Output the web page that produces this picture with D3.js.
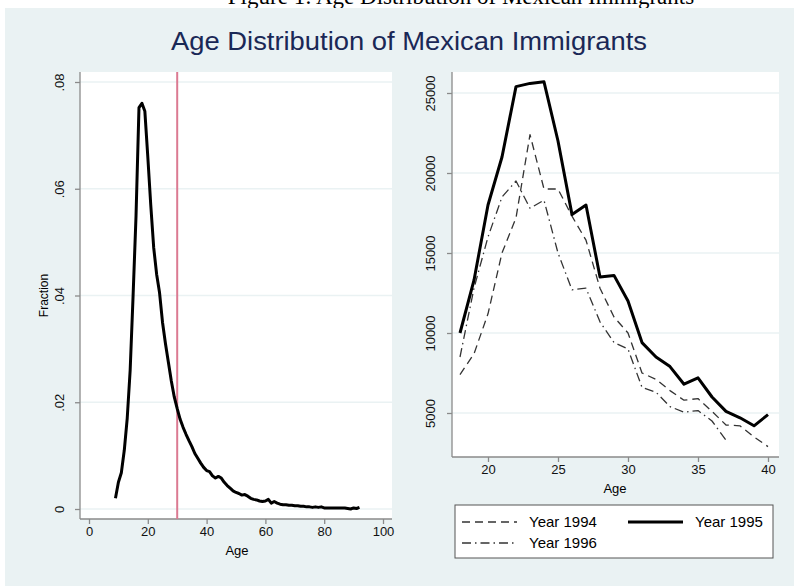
<!DOCTYPE html>
<html>
<head>
<meta charset="utf-8">
<script src="https://cdn.jsdelivr.net/npm/d3@7"></script>
<style>
  body { margin: 0; background: #fff; }
  text { font-family: "Liberation Sans", Arial, sans-serif; }
  .tick text { font-size: 13px; fill: #111; }
</style>
</head>
<body>
<script>
// Left panel: fraction of immigrants at each age
var ages = [9,10,11,12,13,14,15,16,17,18,19,20,21,22,23,24,25,26,27,28,29,30,
  31,32,33,34,35,36,37,38,39,40,41,42,43,44,45,46,47,48,49,50,51,52,53,54,55,
  56,57,58,59,60,61,62,63,64,65,66,67,68,69,70,71,72,73,74,75,76,77,78,79,80,
  81,82,83,84,85,86,87,88,89,90,91,92];
var fraction = [0.0020,0.0050,0.0068,0.0110,0.0170,0.0260,0.0400,0.0550,0.0752,
  0.0760,0.0745,0.0660,0.0570,0.0490,0.0440,0.0405,0.0350,0.0310,0.0275,0.0240,
  0.0210,0.0188,0.0168,0.0153,0.0140,0.0128,0.0117,0.0104,0.0095,0.0086,0.0078,
  0.0072,0.0070,0.0062,0.0058,0.0061,0.0058,0.0050,0.0044,0.0039,0.0034,0.0031,
  0.0029,0.0026,0.0027,0.0024,0.0020,0.0018,0.0017,0.0015,0.0014,0.0015,0.0018,
  0.0011,0.0014,0.0011,0.0009,0.0008,0.0008,0.0007,0.0007,0.0006,0.0006,0.0005,
  0.0005,0.0004,0.0004,0.0003,0.0004,0.0003,0.0004,0.0002,0.0002,0.0002,0.0002,
  0.0002,0.0002,0.0002,0.0002,0.0001,0.0000,0.0002,0.0001,0.0003];
var cutoff_age = 30;
var left_x_ticks = [0, 20, 40, 60, 80, 100];
var left_y_ticks = [0, 0.02, 0.04, 0.06, 0.08];
var left_y_labels = ['0', '.02', '.04', '.06', '.08'];

// Right panel: counts by age and year
var years_ages = [18,19,20,21,22,23,24,25,26,27,28,29,30,31,32,33,34,35,36,37,38,39,40];
var year1994 = [7400,8700,11200,15000,17200,22400,19000,19000,17300,15800,12800,
  11000,10000,7500,7100,6400,5800,5900,5100,4250,4200,3500,2900];
var year1995 = [10000,13300,18000,21000,25400,25600,25700,22000,17400,18000,13500,
  13600,12000,9400,8500,7900,6800,7200,6000,5100,4700,4200,4900];
var year1996 = [8500,12800,16000,18500,19500,17800,18300,15000,12700,12800,10700,
  9400,9000,6600,6300,5400,5050,5150,4500,3300];
var right_x_ticks = [20, 25, 30, 35, 40];
var right_y_ticks = [5000, 10000, 15000, 20000, 25000];
var legend_labels = ['Year 1994', 'Year 1995', 'Year 1996'];

var width = 794, height = 586;
var svg = d3.select('body').append('svg')
  .attr('width', width)
  .attr('height', height);

// figure caption (cropped at the top in the original) and the grey graph region
svg.append('text')
  .attr('x', 461).attr('y', 4)
  .attr('text-anchor', 'middle')
  .style('font-family', '"Liberation Serif", serif')
  .style('font-size', '23px')
  .text('Figure 1: Age Distribution of Mexican Immigrants');

svg.append('rect')
  .attr('x', 5).attr('y', 8)
  .attr('width', width - 5).attr('height', height - 8)
  .attr('fill', '#eaf2f3');

svg.append('text')
  .attr('x', 409).attr('y', 50)
  .attr('text-anchor', 'middle')
  .attr('textLength', 476)
  .attr('lengthAdjust', 'spacingAndGlyphs')
  .style('font-size', '25px')
  .attr('fill', '#1a2856')
  .text('Age Distribution of Mexican Immigrants');

// shared helper to draw an axis in Stata style
function styleAxis(g) {
  g.select('.domain').attr('stroke', '#8a8a8a').attr('stroke-width', 1.3);
  g.selectAll('.tick line').attr('stroke', '#8a8a8a').attr('stroke-width', 1.3);
}

// ---------- left panel ----------
var L = {left: 80, right: 392, top: 72, bottom: 519};
var lx = d3.scaleLinear().domain([0, 100]).range([89, 383]);
var ly = d3.scaleLinear().domain([0, 0.08]).range([509, 82]);

svg.append('rect')
  .attr('x', L.left).attr('y', L.top)
  .attr('width', L.right - L.left).attr('height', L.bottom - L.top)
  .attr('fill', '#fff');

svg.selectAll('line.lgrid')
  .data(left_y_ticks)
  .enter().append('line')
  .attr('class', 'lgrid')
  .attr('x1', L.left).attr('x2', L.right)
  .attr('y1', function(d) { return ly(d); })
  .attr('y2', function(d) { return ly(d); })
  .attr('stroke', '#eaf2f3').attr('stroke-width', 1.5);

var lyAxis = svg.append('g')
  .attr('transform', 'translate(' + L.left + ',0)')
  .call(d3.axisLeft(ly).tickValues(left_y_ticks).tickSize(5).tickSizeOuter(0)
    .tickFormat(function(d, i) { return left_y_labels[i]; }));
lyAxis.select('.domain').attr('d', 'M0,' + L.top + 'V' + L.bottom);
lyAxis.selectAll('.tick text')
  .attr('x', null).attr('dy', null)
  .attr('text-anchor', 'middle')
  .attr('transform', 'translate(-16,0) rotate(-90)');
styleAxis(lyAxis);

var lxAxis = svg.append('g')
  .attr('transform', 'translate(0,' + L.bottom + ')')
  .call(d3.axisBottom(lx).tickValues(left_x_ticks).tickSize(5).tickSizeOuter(0));
lxAxis.select('.domain').attr('d', 'M' + L.left + ',0H' + L.right);
lxAxis.selectAll('.tick text').attr('y', 8);
styleAxis(lxAxis);

svg.append('text')
  .attr('transform', 'translate(48,' + ((L.top + L.bottom) / 2) + ') rotate(-90)')
  .attr('text-anchor', 'middle')
  .style('font-size', '12px')
  .text('Fraction');

svg.append('text')
  .attr('x', (L.left + L.right) / 2 + 1).attr('y', 555)
  .attr('text-anchor', 'middle')
  .style('font-size', '13px')
  .text('Age');

svg.append('line')
  .attr('x1', lx(cutoff_age)).attr('x2', lx(cutoff_age))
  .attr('y1', L.top).attr('y2', L.bottom)
  .attr('stroke', '#db7a92').attr('stroke-width', 2);

var leftLine = d3.line()
  .x(function(d, i) { return lx(ages[i]); })
  .y(function(d) { return ly(d); });

svg.append('path')
  .datum(fraction)
  .attr('d', leftLine)
  .attr('fill', 'none')
  .attr('stroke', '#000')
  .attr('stroke-width', 3)
  .attr('stroke-linejoin', 'round');

// ---------- right panel ----------
var R = {left: 452, right: 779, top: 72, bottom: 457};
var rx = d3.scaleLinear().domain([20, 40]).range([488, 768]);
var ry = d3.scaleLinear().domain([5000, 25000]).range([413, 93]);

svg.append('rect')
  .attr('x', R.left).attr('y', R.top)
  .attr('width', R.right - R.left).attr('height', R.bottom - R.top)
  .attr('fill', '#fff');

svg.selectAll('line.rgrid')
  .data(right_y_ticks)
  .enter().append('line')
  .attr('class', 'rgrid')
  .attr('x1', R.left).attr('x2', R.right)
  .attr('y1', function(d) { return ry(d); })
  .attr('y2', function(d) { return ry(d); })
  .attr('stroke', '#eaf2f3').attr('stroke-width', 1.5);

var ryAxis = svg.append('g')
  .attr('transform', 'translate(' + R.left + ',0)')
  .call(d3.axisLeft(ry).tickValues(right_y_ticks).tickSize(5).tickSizeOuter(0)
    .tickFormat(d3.format('d')));
ryAxis.select('.domain').attr('d', 'M0,' + R.top + 'V' + R.bottom);
ryAxis.selectAll('.tick text')
  .attr('x', null).attr('dy', null)
  .attr('text-anchor', 'middle')
  .attr('transform', 'translate(-17,0) rotate(-90)');
styleAxis(ryAxis);

var rxAxis = svg.append('g')
  .attr('transform', 'translate(0,' + R.bottom + ')')
  .call(d3.axisBottom(rx).tickValues(right_x_ticks).tickSize(5).tickSizeOuter(0));
rxAxis.select('.domain').attr('d', 'M' + R.left + ',0H' + R.right);
rxAxis.selectAll('.tick text').attr('y', 8);
styleAxis(rxAxis);

svg.append('text')
  .attr('x', 615).attr('y', 493)
  .attr('text-anchor', 'middle')
  .style('font-size', '13px')
  .text('Age');

var series = [
  {values: year1994, dash: '8,5', width: 1.3, color: '#333'},
  {values: year1996, dash: '9,4,1.5,4', width: 1.3, color: '#333'},
  {values: year1995, dash: null, width: 3, color: '#000'}
];

var rightLine = d3.line()
  .x(function(d, i) { return rx(years_ages[i]); })
  .y(function(d) { return ry(d); });

svg.selectAll('path.year')
  .data(series)
  .enter().append('path')
  .attr('class', 'year')
  .attr('d', function(s) { return rightLine(s.values); })
  .attr('fill', 'none')
  .attr('stroke', function(s) { return s.color; })
  .attr('stroke-width', function(s) { return s.width; })
  .attr('stroke-dasharray', function(s) { return s.dash; })
  .attr('stroke-linejoin', 'round');

// legend
svg.append('rect')
  .attr('x', 455).attr('y', 505)
  .attr('width', 318).attr('height', 53)
  .attr('fill', '#fff')
  .attr('stroke', '#555').attr('stroke-width', 1);

var legendItems = [
  {label: legend_labels[0], s: series[0], x: 462, y: 522},
  {label: legend_labels[1], s: series[2], x: 628, y: 522},
  {label: legend_labels[2], s: series[1], x: 462, y: 543}
];
legendItems.forEach(function(it) {
  svg.append('line')
    .attr('x1', it.x).attr('x2', it.x + 55)
    .attr('y1', it.y).attr('y2', it.y)
    .attr('stroke', it.s.color)
    .attr('stroke-width', it.s.width)
    .attr('stroke-dasharray', it.s.dash);
  svg.append('text')
    .attr('x', it.x + 67).attr('y', it.y + 5)
    .style('font-size', '15px')
    .text(it.label);
});
</script>
</body>
</html>
